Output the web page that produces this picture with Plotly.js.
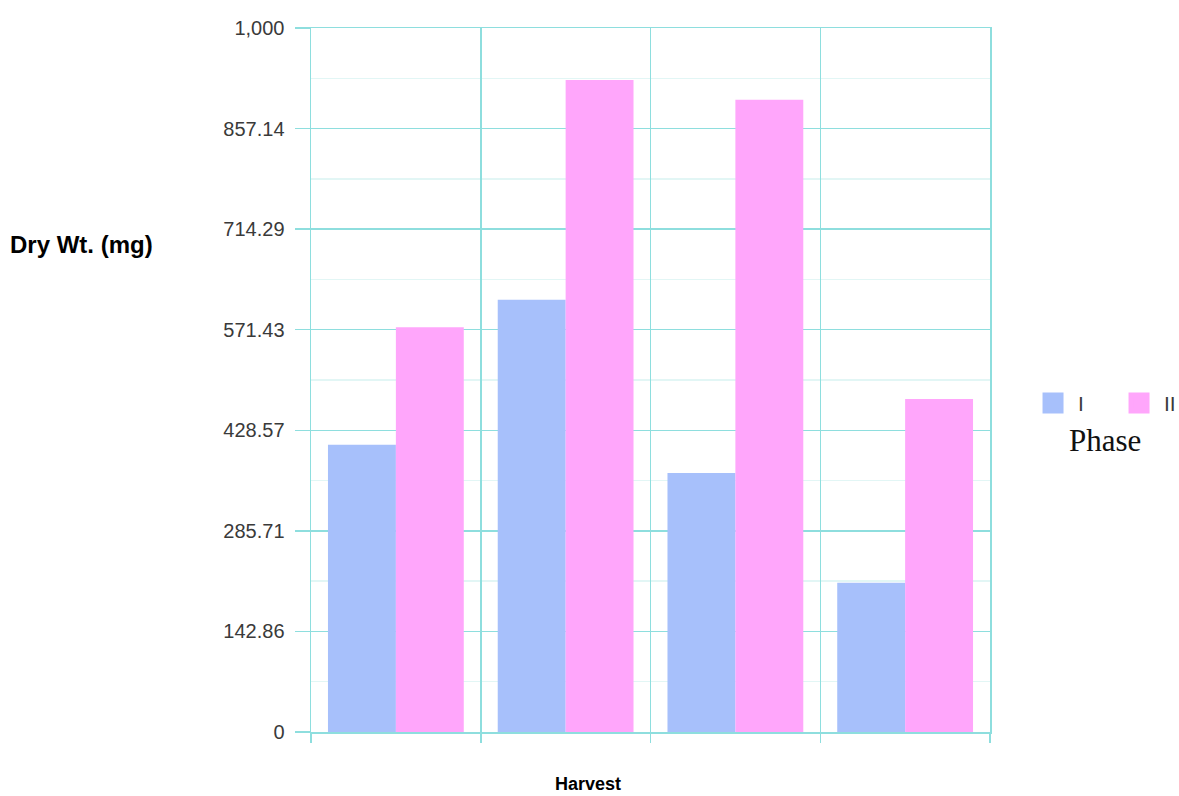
<!DOCTYPE html>
<html>
<head>
<meta charset="utf-8">
<script src="https://cdn.plot.ly/plotly-3.0.1.min.js"></script>
<style>html,body{margin:0;padding:0;background:#fff;}#chart{width:1179px;height:796px;}</style>
</head>
<body>
<div id="chart"></div>
<script>
const harvests = [1, 2, 3, 4];
const phaseNames = ["I", "II"];
const phaseI = [408, 614, 368, 212];
const phaseII = [575, 926, 898, 473];
const yTickVals = [0, 1000/7, 2000/7, 3000/7, 4000/7, 5000/7, 6000/7, 1000];
const yTickText = ["0", "142.86", "285.71", "428.57", "571.43", "714.29", "857.14", "1,000"];

const xs = harvests.map((h, i) => i);
const blue = "#a7c0fb";
const pink = "#ffa6fb";
const gridMajor = "#8edede";
const gridMinor = "#e2f6f5";

const traces = [
  {type: "bar", x: xs, y: phaseI, marker: {color: blue}, showlegend: false, hoverinfo: "y"},
  {type: "bar", x: xs, y: phaseII, marker: {color: pink}, showlegend: false, hoverinfo: "y"},
  {type: "scatter", mode: "markers", x: [null], y: [null], name: phaseNames[0],
   marker: {symbol: "square", size: 16, color: blue, line: {color: blue, width: 5}}},
  {type: "scatter", mode: "markers", x: [null], y: [null], name: phaseNames[1],
   marker: {symbol: "square", size: 16, color: pink, line: {color: pink, width: 5}}}
];

const minorVals = [];
for (let k = 0; k < 7; k++) minorVals.push((k + 0.5) * 1000 / 7);

const layout = {
  width: 1179, height: 796,
  margin: {l: 311, r: 189, t: 28, b: 64, autoexpand: false},
  paper_bgcolor: "#ffffff", plot_bgcolor: "#ffffff",
  font: {family: "Liberation Sans, Arial, sans-serif", color: "#333"},
  barmode: "group", bargap: 0.2, bargroupgap: 0,
  xaxis: {
    type: "linear", range: [-0.5, 3.5], tickmode: "linear", tick0: -0.5, dtick: 1,
    showticklabels: false, showgrid: true, gridcolor: gridMajor, gridwidth: 1.5,
    zeroline: false, showline: true, mirror: true, linecolor: gridMajor, linewidth: 1.5,
    ticks: "outside", ticklen: 9, tickcolor: gridMajor, tickwidth: 1.5,
    fixedrange: true
  },
  yaxis: {
    range: [0, 1000], tickmode: "array", tickvals: yTickVals, ticktext: yTickText,
    showgrid: true, gridcolor: gridMajor, gridwidth: 1.5, zeroline: false,
    showline: true, mirror: true, linecolor: gridMajor, linewidth: 1.5,
    ticks: "outside", ticklen: 15, tickcolor: gridMajor, tickwidth: 1.5, ticklabelstandoff: 6,
    tickfont: {size: 20, color: "#3a3a3a", family: "Liberation Sans, Arial, sans-serif"},
    minor: {tickmode: "array", tickvals: minorVals, showgrid: true, gridcolor: gridMinor, ticks: ""},
    fixedrange: true
  },
  showlegend: true,
  legend: {
    orientation: "h", x: 1.056, xanchor: "left", y: 0.467, yanchor: "middle",
    font: {size: 21, color: "#3a3a3a", family: "Liberation Sans, Arial, sans-serif"},
    itemwidth: 40, entrywidth: 31, tracegroupgap: 0, bgcolor: "rgba(0,0,0,0)"
  },
  annotations: [
    {text: "Dry Wt. (mg)", xref: "paper", yref: "paper", x: (82 - 311) / 679, y: 0.692,
     xanchor: "center", yanchor: "middle", showarrow: false,
     font: {size: 24, color: "#000", family: "Liberation Sans, Arial, sans-serif", weight: "bold"}},
    {text: "Harvest", xref: "paper", yref: "paper", x: (588 - 311) / 679, y: (732 - 784) / 704,
     xanchor: "center", yanchor: "middle", showarrow: false,
     font: {size: 18, color: "#000", family: "Liberation Sans, Arial, sans-serif", weight: "bold"}},
    {text: "Phase", xref: "paper", yref: "paper", x: (1105 - 311) / 679, y: 0.414,
     xanchor: "center", yanchor: "middle", showarrow: false,
     font: {size: 31, color: "#111", family: "Liberation Serif, Times New Roman, serif"}}
  ]
};

Plotly.newPlot("chart", traces, layout, {displayModeBar: false, staticPlot: true});
</script>
</body>
</html>
